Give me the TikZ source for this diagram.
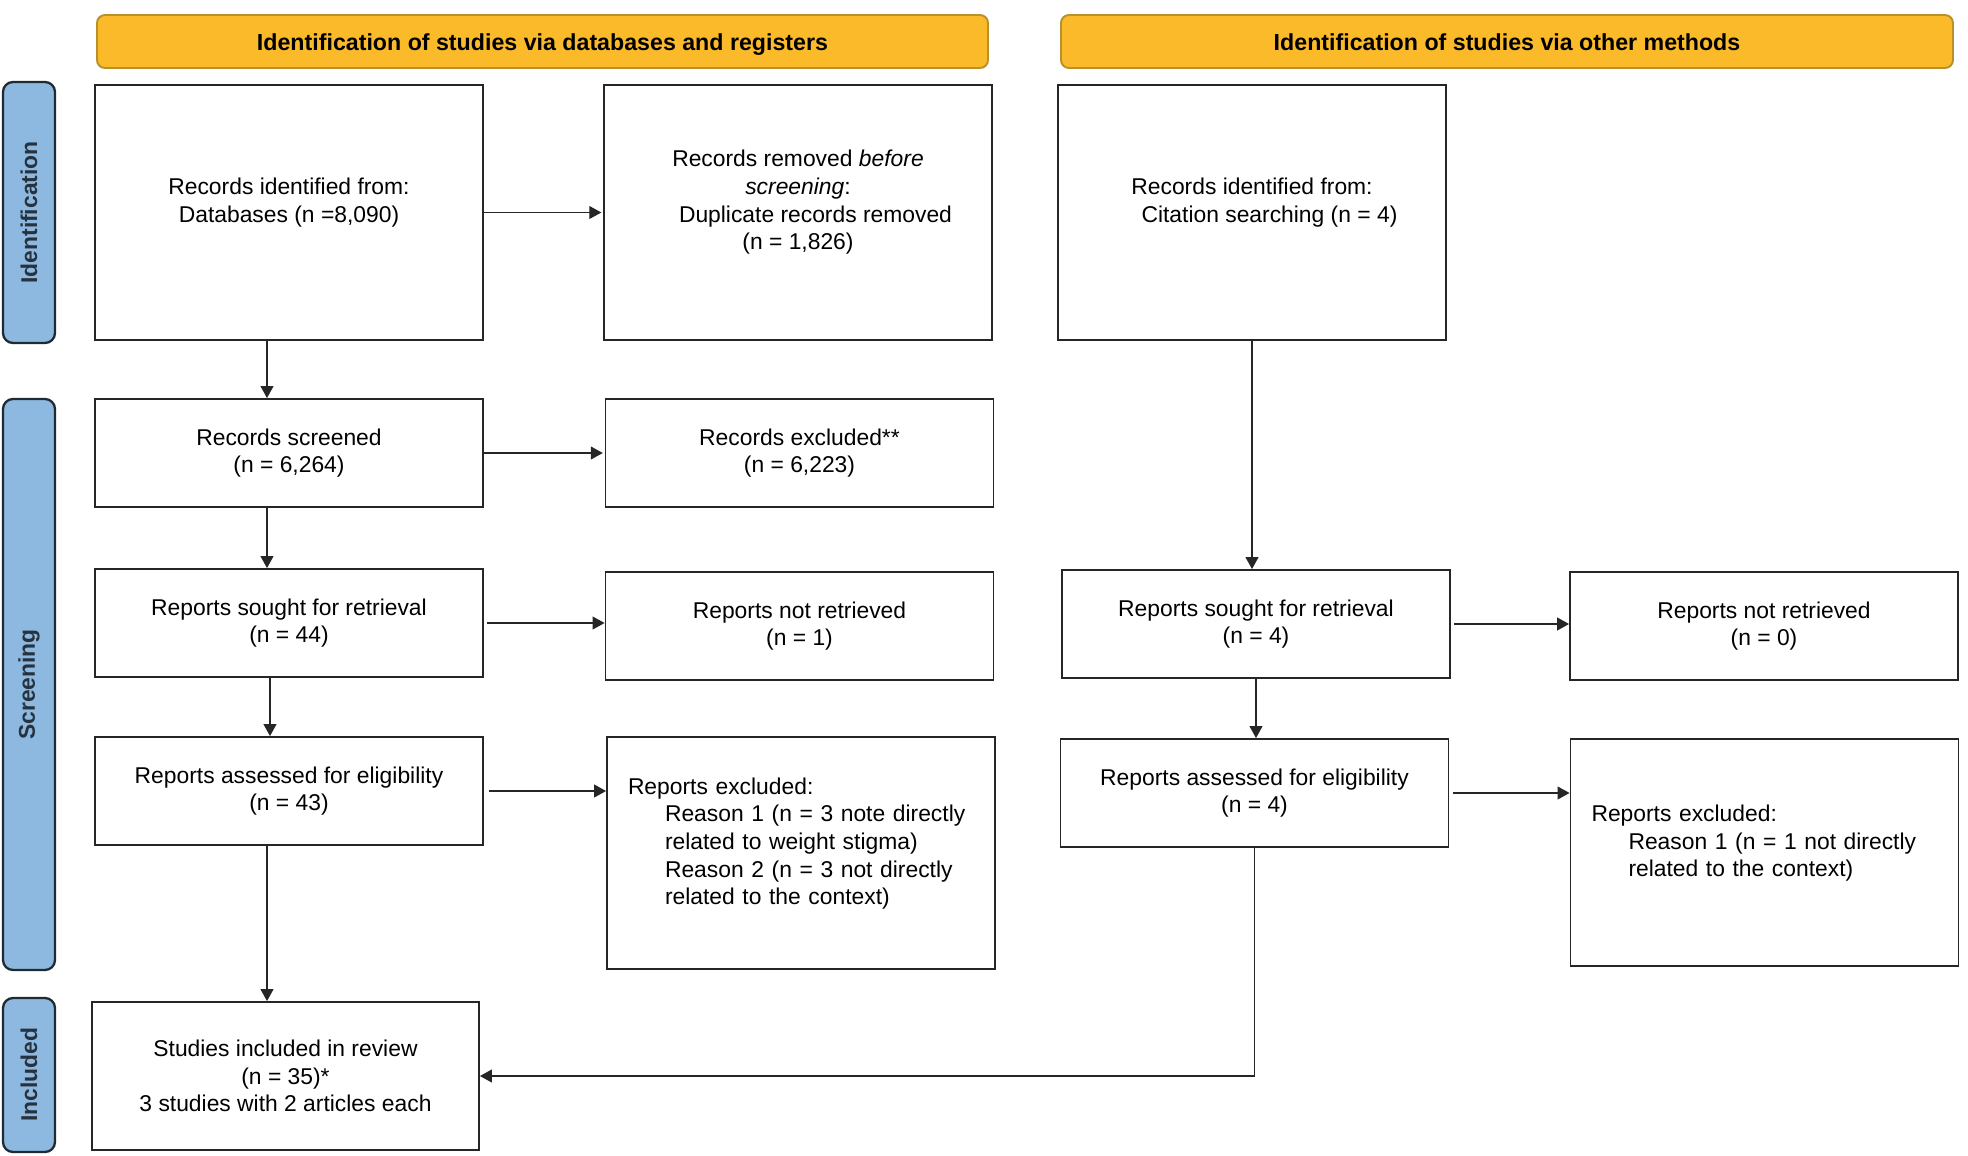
\documentclass[tikz,border=0pt]{standalone}
\usepackage{fontspec}
\setmainfont{Liberation Sans}
\usetikzlibrary{arrows.meta,calc}
\definecolor{headfill}{HTML}{FBBA29}
\definecolor{headline}{HTML}{B8912B}
\definecolor{sidefill}{HTML}{8DB9E0}
\definecolor{sideline}{HTML}{1F2A33}
\definecolor{sidetext}{HTML}{27323F}
\begin{document}
\begin{tikzpicture}[
    every node/.style={font=\fontsize{13}{15.7}\selectfont},
    box/.style={draw=black!85, line width=1.1pt, minimum width=7.76cm, align=center, inner sep=0pt},
    leftbox/.style={draw=black!85, line width=1.1pt, text width=6.92cm, inner xsep=0.42cm, align=left},
    head/.style={draw=headline, fill=headfill, line width=1.1pt, rounded corners=0.16cm, minimum height=1.06cm, text height=13.4pt, text depth=2.8pt, font=\fontsize{13.2}{15.7}\selectfont\bfseries},
    side/.style={draw=sideline, fill=sidefill, line width=1.3pt, rounded corners=0.2cm, minimum width=1.04cm},
    sidelabel/.style={rotate=90, text=sidetext, font=\fontsize{13}{15.7}\selectfont\bfseries},
    arr/.style={draw=black!85, line width=0.6pt, -{Triangle[length=0.24cm,width=0.26cm]}}
]
\useasboundingbox (0,0) rectangle (39.36,-23.12);

% headers
\node[head, minimum width=17.82cm] (hdb) at (10.85,-0.83) {Identification of studies via databases and registers};
\node[head, minimum width=17.84cm] (hoth) at (30.14,-0.83) {Identification of studies via other methods};

% phases
\node[side, minimum height=5.22cm] (pid) at (0.58,-4.25) {};
\node[sidelabel] at (pid.center) {Identification};
\node[side, minimum height=11.42cm] (pscr) at (0.58,-13.69) {};
\node[sidelabel] at (pscr.center) {Screening};
\node[side, minimum height=3.08cm] (pinc) at (0.58,-21.50) {};
\node[sidelabel] at (pinc.center) {Included};

% databases and registers
\node[box, minimum height=5.10cm, text depth=0.5cm] (ident) at (5.78,-4.25) {Records identified from:\\ Databases (n =8,090)};
\node[box, minimum height=5.10cm, text depth=0.5cm] (dupl) at (15.96,-4.25) {Records removed \emph{before}\\ \emph{screening}:\\ \hspace*{0.7cm}Duplicate records removed\\ (n = 1,826)};
\node[box, minimum height=2.16cm] (screen) at (5.78,-9.06) {Records screened\\ (n = 6,264)};
\node[box, minimum height=2.16cm] (excl) at (15.99,-9.06) {Records excluded**\\ (n = 6,223)};
\node[box, minimum height=2.16cm] (sought) at (5.78,-12.46) {Reports sought for retrieval\\ (n = 44)};
\node[box, minimum height=2.16cm] (notret) at (15.99,-12.52) {Reports not retrieved\\ (n = 1)};
\node[box, minimum height=2.16cm] (elig) at (5.78,-15.82) {Reports assessed for eligibility\\ (n = 43)};
\node[leftbox, minimum height=4.64cm, text depth=2.68cm] (repex) at (16.02,-17.06) {Reports excluded:\\
    \hspace*{0.74cm}Reason 1 (n = 3 note directly\\
    \hspace*{0.74cm}related to weight stigma)\\
    \hspace*{0.74cm}Reason 2 (n = 3 not directly\\
    \hspace*{0.74cm}related to the context)};
\node[box, minimum width=7.74cm, minimum height=2.96cm] (incl) at (5.71,-21.52) {Studies included in review\\ (n = 35)*\\ 3 studies with 2 articles each};

% other methods
\node[box, minimum height=5.10cm, text depth=0.5cm] (cite) at (25.04,-4.25) {Records identified from:\\ \hspace*{0.7cm}Citation searching (n = 4)};
\node[box, minimum height=2.16cm] (osought) at (25.12,-12.48) {Reports sought for retrieval\\ (n = 4)};
\node[box, minimum height=2.16cm] (onotret) at (35.28,-12.52) {Reports not retrieved\\ (n = 0)};
\node[box, minimum height=2.16cm] (oelig) at (25.09,-15.86) {Reports assessed for eligibility\\ (n = 4)};
\node[leftbox, minimum height=4.54cm, text depth=1.57cm] (orepex) at (35.29,-17.05) {Reports excluded:\\
    \hspace*{0.74cm}Reason 1 (n = 1 not directly\\
    \hspace*{0.74cm}related to the context)};

\draw[arr, shorten >=1pt] (ident.east) -- (ident.east -| dupl.west);
\draw[arr] ([xshift=-0.44cm]ident.south) -- ([xshift=-0.44cm]screen.north);
\draw[arr, shorten >=1pt] (screen.east) -- (screen.east -| excl.west);
\draw[arr] ([xshift=-0.44cm]screen.south) -- ([xshift=-0.44cm]sought.north);
\draw[arr, shorten <=2pt] (sought.east) -- (sought.east -| notret.west);
\draw[arr] ([xshift=-0.38cm]sought.south) -- ([xshift=-0.38cm]elig.north);
\draw[arr, shorten <=3pt] (elig.east) -- (elig.east -| repex.west);
\draw[arr] ([xshift=-0.44cm]elig.south) -- ([xshift=-0.44cm]elig.south |- incl.north);
\draw[arr] (cite.south) -- (cite.south |- osought.north);
\draw[arr] (osought.south) -- (osought.south |- oelig.north);
\draw[arr, shorten <=2pt] (osought.east) -- (osought.east -| onotret.west);
\draw[arr, shorten <=2pt] (oelig.east) -- (oelig.east -| orepex.west);
\draw[arr] (oelig.south) |- (incl.east);
\end{tikzpicture}
\end{document}
